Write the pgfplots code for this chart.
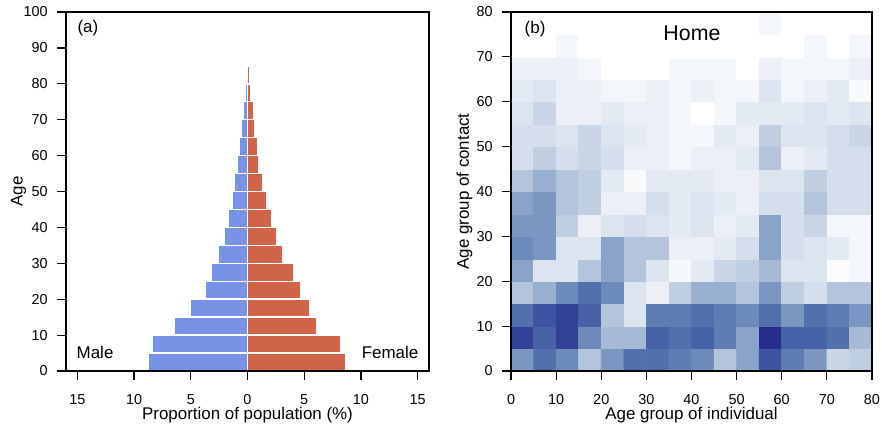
\documentclass[border=0pt]{standalone}
\usepackage{pgfplots}
\pgfplotsset{compat=1.18}
\usepackage{fontspec}
\setmainfont{Liberation Sans}
\definecolor{malecol}{RGB}{120,146,230}
\definecolor{femcol}{RGB}{208,100,72}
\begin{document}
\begin{tikzpicture}
\useasboundingbox (0pt,0pt) rectangle (661.5pt,321.75pt);
\pgfplotsset{
  myax/.style={
    scale only axis,
    anchor=south west,
    tick pos=left,
    tick align=outside,
    major tick length=6.75pt,
    axis line style={line width=0.9pt},
    every tick/.style={black, line width=0.9pt},
    /pgf/number format/assume math mode=true,
    tick label style={font=\fontsize{10.8}{12}\selectfont, inner sep=0pt},
    xticklabel style={yshift=-10.6pt},
    yticklabel style={xshift=-6.75pt},
    label style={font=\fontsize{12.7}{15}\selectfont, inner sep=0pt},
    axis on top,
    clip=true,
  }
}
% ---------------- panel (a)
\begin{axis}[myax,
  at={(49.5pt,43.5pt)}, width=272.25pt, height=269.25pt,
  xmin=-16, xmax=16, ymin=0, ymax=100,
  xtick={-15,-10,-5,0,5,10,15},
  xticklabels={15,10,5,0,5,10,15},
  ytick={0,10,...,100},
  xlabel={Proportion of population (\%)},
  ylabel={Age},
  xlabel style={at={(axis description cs:0.5,-0.1235)}, anchor=center},
  ylabel style={at={(axis description cs:-0.1309,0.5)}, anchor=center},
  xbar, bar width=5, bar shift=0,
]
\addplot[xbar, fill=malecol, draw=white, line width=1.1pt] coordinates {
(-8.77,2.5) (-8.39,7.5) (-6.42,12.5) (-5.05,17.5) (-3.76,22.5) (-3.17,27.5)
(-2.58,32.5) (-2.08,37.5) (-1.73,42.5) (-1.35,47.5) (-1.15,52.5) (-0.91,57.5)
(-0.73,62.5) (-0.56,67.5) (-0.41,72.5) (-0.24,77.5) (-0.08,82.5)};
\addplot[xbar, fill=femcol, draw=white, line width=1.1pt] coordinates {
(8.62,2.5) (8.18,7.5) (6.07,12.5) (5.49,17.5) (4.69,22.5) (4.05,27.5)
(3.08,32.5) (2.58,37.5) (2.14,42.5) (1.67,47.5) (1.38,52.5) (1.00,57.5)
(0.91,62.5) (0.62,67.5) (0.53,72.5) (0.32,77.5) (0.16,82.5)};
\node[anchor=west, font=\fontsize{12.7}{15}\selectfont] at (axis cs:-15.4,95.5) {(a)};
\node[anchor=west, font=\fontsize{12.7}{15}\selectfont] at (axis cs:-15.47,5.3) {Male};
\node[anchor=east, font=\fontsize{12.7}{15}\selectfont] at (axis cs:15.47,5.3) {Female};
\end{axis}
% ---------------- panel (b)
\begin{axis}[myax,
  at={(383.25pt,43.5pt)}, width=270.75pt, height=269.25pt,
  xmin=0, xmax=80, ymin=0, ymax=80,
  xtick={0,10,...,80}, ytick={0,10,...,80},
  xlabel={Age group of individual},
  ylabel={Age group of contact},
  xlabel style={at={(axis description cs:0.5,-0.1235)}, anchor=center},
  ylabel style={at={(axis description cs:-0.129,0.5)}, anchor=center},
  colormap={home}{rgb255=(255,255,255) rgb255=(243,246,250) rgb255=(228,234,243)
    rgb255=(212,222,236) rgb255=(192,206,226) rgb255=(166,186,214) rgb255=(138,163,200)
    rgb255=(108,138,186) rgb255=(82,112,172) rgb255=(62,84,162) rgb255=(40,44,140)},
  point meta min=0, point meta max=10,
]
\addplot[matrix plot*, mesh/cols=16, point meta=explicit, shader=flat corner] table[meta=c] {
x y c
2.5 2.5 6.5
7.5 2.5 8
12.5 2.5 7
17.5 2.5 4.5
22.5 2.5 6.5
27.5 2.5 8
32.5 2.5 8
37.5 2.5 7.5
42.5 2.5 7
47.5 2.5 4.5
52.5 2.5 6
57.5 2.5 9
62.5 2.5 7.5
67.5 2.5 6.5
72.5 2.5 3.5
77.5 2.5 4
2.5 7.5 9.5
7.5 7.5 8.5
12.5 7.5 9.5
17.5 7.5 7
22.5 7.5 5
27.5 7.5 5
32.5 7.5 8.5
37.5 7.5 8
42.5 7.5 8.5
47.5 7.5 7.5
52.5 7.5 6
57.5 7.5 10
62.5 7.5 8.5
67.5 7.5 8.5
72.5 7.5 8
77.5 7.5 5
2.5 12.5 8
7.5 12.5 9
12.5 12.5 9.5
17.5 12.5 8.5
22.5 12.5 4.5
27.5 12.5 2.5
32.5 12.5 7.5
37.5 12.5 7.5
42.5 12.5 8
47.5 12.5 7.5
52.5 12.5 7
57.5 12.5 8
62.5 12.5 6.5
67.5 12.5 8
72.5 12.5 7.5
77.5 12.5 6.5
2.5 17.5 4.5
7.5 17.5 5.5
12.5 17.5 7
17.5 17.5 8
22.5 17.5 7
27.5 17.5 2.5
32.5 17.5 1.5
37.5 17.5 4
42.5 17.5 5.5
47.5 17.5 5.5
52.5 17.5 4.5
57.5 17.5 6.5
62.5 17.5 4
67.5 17.5 3
72.5 17.5 4.5
77.5 17.5 4.5
2.5 22.5 6
7.5 22.5 2.5
12.5 22.5 2.5
17.5 22.5 4.5
22.5 22.5 6
27.5 22.5 4.5
32.5 22.5 2.5
37.5 22.5 0.8
42.5 22.5 2
47.5 22.5 3.5
52.5 22.5 4
57.5 22.5 5
62.5 22.5 2.5
67.5 22.5 2.5
72.5 22.5 0.3
77.5 22.5 1
2.5 27.5 7
7.5 27.5 6.5
12.5 27.5 2.5
17.5 27.5 2.5
22.5 27.5 6
27.5 27.5 4.5
32.5 27.5 4.5
37.5 27.5 1.5
42.5 27.5 1.5
47.5 27.5 2
52.5 27.5 3
57.5 27.5 6
62.5 27.5 3
67.5 27.5 2.5
72.5 27.5 2
77.5 27.5 1
2.5 32.5 6.5
7.5 32.5 6.5
12.5 32.5 4
17.5 32.5 1.5
22.5 32.5 2.5
27.5 32.5 3
32.5 32.5 2.5
37.5 32.5 2
42.5 32.5 2.5
47.5 32.5 1.5
52.5 32.5 2
57.5 32.5 6
62.5 32.5 3
67.5 32.5 3.5
72.5 32.5 1
77.5 32.5 1
2.5 37.5 6
7.5 37.5 6.5
12.5 37.5 4.5
17.5 37.5 4
22.5 37.5 1.5
27.5 37.5 1.5
32.5 37.5 3
37.5 37.5 2
42.5 37.5 2.5
47.5 37.5 2
52.5 37.5 1.5
57.5 37.5 3
62.5 37.5 3
67.5 37.5 4.5
72.5 37.5 3
77.5 37.5 3
2.5 42.5 4.5
7.5 42.5 5.5
12.5 42.5 4.5
17.5 42.5 4
22.5 42.5 2
27.5 42.5 0.5
32.5 42.5 2
37.5 42.5 2
42.5 42.5 2
47.5 42.5 1.5
52.5 42.5 1.5
57.5 42.5 2.5
62.5 42.5 2.5
67.5 42.5 4
72.5 42.5 3
77.5 42.5 3
2.5 47.5 3
7.5 47.5 4
12.5 47.5 3
17.5 47.5 3.5
22.5 47.5 3
27.5 47.5 1.5
32.5 47.5 1.5
37.5 47.5 1
42.5 47.5 1.5
47.5 47.5 1.5
52.5 47.5 2
57.5 47.5 4.5
62.5 47.5 1.5
67.5 47.5 2
72.5 47.5 3
77.5 47.5 3
2.5 52.5 3
7.5 52.5 3
12.5 52.5 2.5
17.5 52.5 3.5
22.5 52.5 2.5
27.5 52.5 2
32.5 52.5 1.5
37.5 52.5 1
42.5 52.5 1
47.5 52.5 2
52.5 52.5 1.5
57.5 52.5 4
62.5 52.5 2.5
67.5 52.5 2.5
72.5 52.5 3
77.5 52.5 3.5
2.5 57.5 2.5
7.5 57.5 3.5
12.5 57.5 1.5
17.5 57.5 1.5
22.5 57.5 2
27.5 57.5 1.5
32.5 57.5 1.5
37.5 57.5 1
42.5 57.5 0
47.5 57.5 1
52.5 57.5 2
57.5 57.5 2
62.5 57.5 2
67.5 57.5 2.5
72.5 57.5 2
77.5 57.5 2.5
2.5 62.5 2
7.5 62.5 2.5
12.5 62.5 1.5
17.5 62.5 1.5
22.5 62.5 1
27.5 62.5 1
32.5 62.5 1.5
37.5 62.5 1
42.5 62.5 1.5
47.5 62.5 1
52.5 62.5 1
57.5 62.5 2.5
62.5 62.5 1
67.5 62.5 1.5
72.5 62.5 2
77.5 62.5 0.5
2.5 67.5 1.5
7.5 67.5 1.5
12.5 67.5 1.5
17.5 67.5 1
22.5 67.5 0
27.5 67.5 0
32.5 67.5 0
37.5 67.5 1
42.5 67.5 1
47.5 67.5 1
52.5 67.5 0
57.5 67.5 1.5
62.5 67.5 1
67.5 67.5 1
72.5 67.5 1
77.5 67.5 1.5
2.5 72.5 0
7.5 72.5 0
12.5 72.5 1
17.5 72.5 0
22.5 72.5 0
27.5 72.5 0
32.5 72.5 0
37.5 72.5 0
42.5 72.5 0
47.5 72.5 0
52.5 72.5 0
57.5 72.5 0
62.5 72.5 0
67.5 72.5 1
72.5 72.5 0
77.5 72.5 1
2.5 77.5 0
7.5 77.5 0
12.5 77.5 0
17.5 77.5 0
22.5 77.5 0
27.5 77.5 0
32.5 77.5 0
37.5 77.5 0
42.5 77.5 0
47.5 77.5 0
52.5 77.5 0
57.5 77.5 1
62.5 77.5 0
67.5 77.5 0
72.5 77.5 0
77.5 77.5 0
};
\node[anchor=west, font=\fontsize{12.7}{15}\selectfont] at (axis cs:2.0,76.2) {(b)};
\node[font=\fontsize{16}{19}\selectfont] at (axis cs:40.1,75.3) {Home};
\end{axis}
\end{tikzpicture}
\end{document}
